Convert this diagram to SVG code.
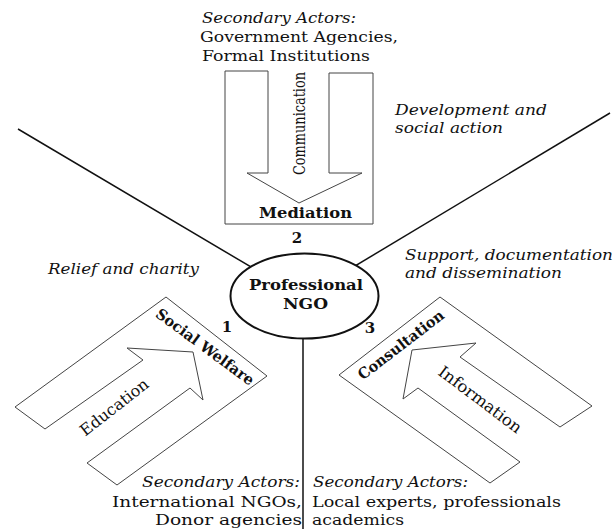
<svg xmlns="http://www.w3.org/2000/svg" width="615" height="529" viewBox="0 0 615 529">
<style>
.t{font-family:"DejaVu Serif","Liberation Serif",serif;font-size:15px;fill:#111}
.r{font-size:16px}
.i{font-style:italic}
.b{font-weight:bold}
.box{fill:none;stroke:#444;stroke-width:1;stroke-linejoin:miter}
.ln{fill:none;stroke:#111;stroke-width:1.5}
</style>
<rect width="615" height="529" fill="#fff"/>
<g id="connectors">
<line class="ln" x1="18" y1="129" x2="300" y2="296"/>
<line class="ln" x1="610" y1="113" x2="305" y2="296"/>
<line class="ln" x1="303" y1="300" x2="303" y2="529"/>
</g>
<g id="mediation">
<path class="box" d="M268,71 H225 V224 H373 V73 H329 V173 H362 L299,203 L247,173 H268 Z"/>
<text class="t r" transform="translate(305,123.5) rotate(-90)" text-anchor="middle" textLength="103" lengthAdjust="spacingAndGlyphs">Communication</text>
<text class="t b" x="259" y="218" textLength="93" lengthAdjust="spacingAndGlyphs">Mediation</text>
<text class="t b" x="297" y="243" text-anchor="middle">2</text>
</g>
<g id="top-actors">
<text class="t i" x="202" y="22.5" textLength="154" lengthAdjust="spacingAndGlyphs">Secondary Actors:</text>
<text class="t" x="200" y="41.5" textLength="198" lengthAdjust="spacingAndGlyphs">Government Agencies,</text>
<text class="t" x="202" y="61" textLength="168" lengthAdjust="spacingAndGlyphs">Formal Institutions</text>
</g>
<g id="ngo">
<ellipse cx="304.5" cy="296" rx="74" ry="42.5" fill="#fff" stroke="#111" stroke-width="2"/>
<text class="t b" x="249" y="290" textLength="114" lengthAdjust="spacingAndGlyphs">Professional</text>
<text class="t b" x="283" y="309" textLength="45" lengthAdjust="spacingAndGlyphs">NGO</text>
</g>
<g id="social-welfare">
<path class="box" d="M166,297 L15,407 L45,429 L143,360 L127,348 L193,352 L203,400 L190,388 L87,463 L117,485 L267,376 Z"/>
<text class="t b" transform="translate(205,347) rotate(36.5)" x="0" y="5" text-anchor="middle" textLength="118" lengthAdjust="spacingAndGlyphs">Social Welfare</text>
<text class="t r" transform="translate(114.5,407.5) rotate(-38)" x="0" y="5" text-anchor="middle" textLength="82" lengthAdjust="spacingAndGlyphs">Education</text>
<text class="t b" x="227" y="332" text-anchor="middle">1</text>
</g>
<g id="consultation">
<path class="box" d="M440,297 L339,375 L490,483 L520,462 L418,388 L403,399 L412,350 L476,343 L460,357 L560,427 L592,406 Z"/>
<text class="t b" transform="translate(401,345) rotate(-37.5)" x="0" y="5" text-anchor="middle" textLength="104" lengthAdjust="spacingAndGlyphs">Consultation</text>
<text class="t r" transform="translate(480,400) rotate(37)" x="0" y="5" text-anchor="middle" textLength="100" lengthAdjust="spacingAndGlyphs">Information</text>
<text class="t b" x="370" y="333" text-anchor="middle">3</text>
</g>
<g id="labels">
<text class="t i" x="395" y="115" textLength="152" lengthAdjust="spacingAndGlyphs">Development and</text>
<text class="t i" x="395" y="133" textLength="108" lengthAdjust="spacingAndGlyphs">social action</text>
<text class="t i" x="48" y="274" textLength="151" lengthAdjust="spacingAndGlyphs">Relief and charity</text>
<text class="t i" x="405" y="259.5" textLength="208" lengthAdjust="spacingAndGlyphs">Support, documentation</text>
<text class="t i" x="405" y="277.5" textLength="157" lengthAdjust="spacingAndGlyphs">and dissemination</text>
</g>
<g id="bottom-left-actors">
<text class="t i" x="300" y="487" text-anchor="end" textLength="158" lengthAdjust="spacingAndGlyphs">Secondary Actors:</text>
<text class="t" x="302" y="506.5" text-anchor="end" textLength="190" lengthAdjust="spacingAndGlyphs">International NGOs,</text>
<text class="t" x="302" y="525" text-anchor="end" textLength="147" lengthAdjust="spacingAndGlyphs">Donor agencies</text>
</g>
<g id="bottom-right-actors">
<text class="t i" x="313" y="487" textLength="155" lengthAdjust="spacingAndGlyphs">Secondary Actors:</text>
<text class="t" x="312" y="506.5" textLength="249" lengthAdjust="spacingAndGlyphs">Local experts, professionals</text>
<text class="t" x="312" y="525" textLength="92" lengthAdjust="spacingAndGlyphs">academics</text>
</g>
</svg>
